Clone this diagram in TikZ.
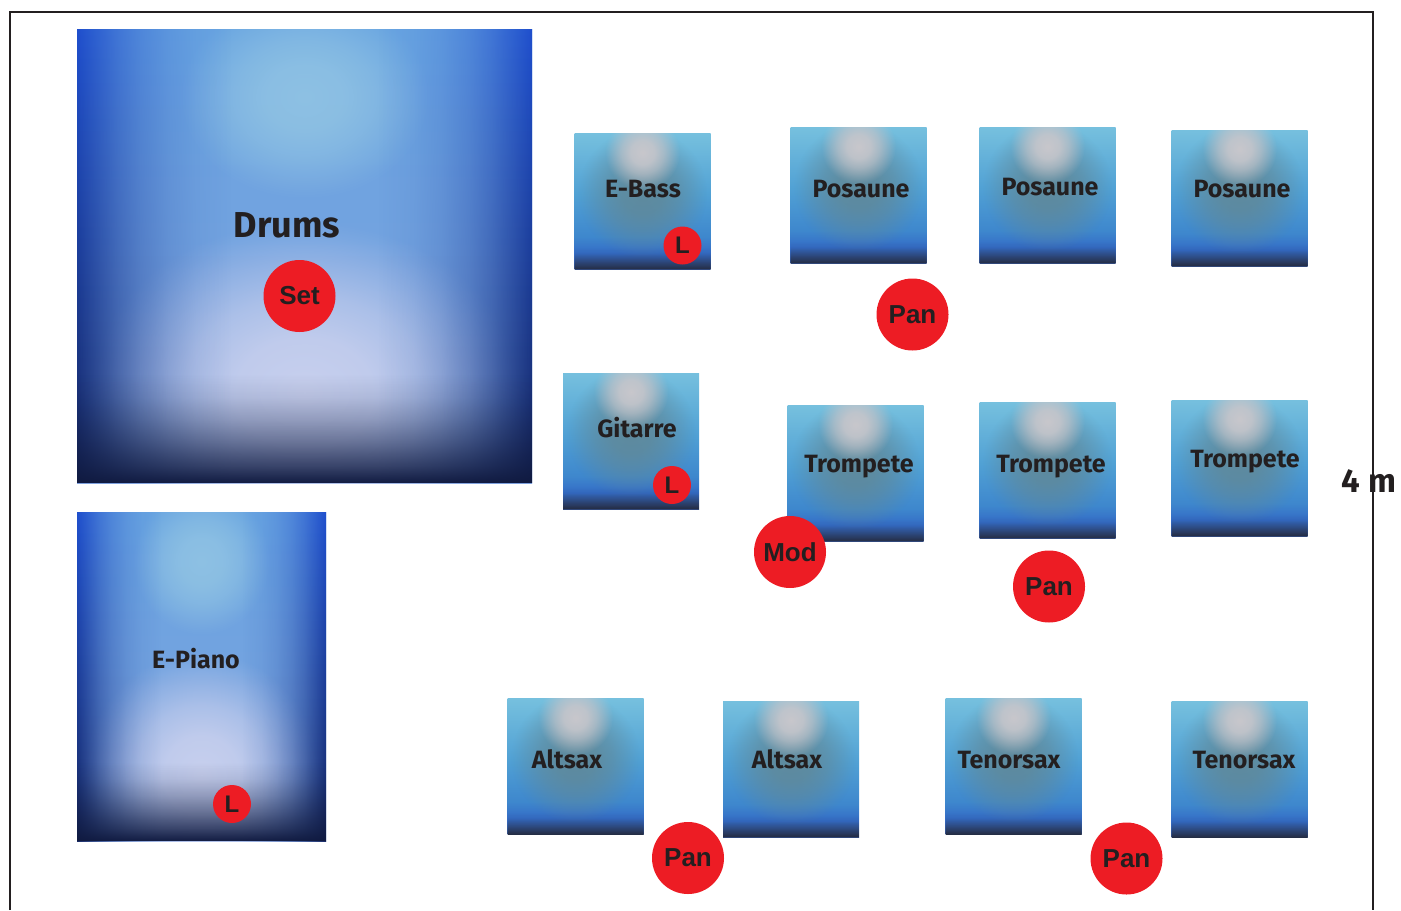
\documentclass[tikz,border=0pt]{standalone}
\usepackage{fontspec}
\setmainfont{Fira Sans}
\newfontfamily\dotfont{Liberation Sans}
\usetikzlibrary{fadings}

\definecolor{ink}{RGB}{35,31,32}
\definecolor{dotred}{RGB}{237,28,36}
% kleine boxen
\definecolor{sbot}{RGB}{48,70,120}
\definecolor{sring}{RGB}{52,108,198}
\definecolor{slow}{RGB}{62,135,205}
\definecolor{smid}{RGB}{80,160,212}
\definecolor{stop}{RGB}{118,192,222}
\definecolor{steal}{RGB}{96,136,152}
\definecolor{shigh}{RGB}{200,199,204}
\definecolor{sdark}{RGB}{36,44,66}
% grosse boxen
\definecolor{bigtop}{RGB}{105,165,225}
\definecolor{bigbot}{RGB}{125,160,222}
\definecolor{lav}{RGB}{200,208,238}
\definecolor{topcyan}{RGB}{150,200,228}
\definecolor{sideblue}{RGB}{30,78,205}
\definecolor{sidenavy}{RGB}{22,40,100}
\definecolor{navy}{RGB}{16,26,64}

\pgfdeclareverticalshading{instbase}{100bp}{color(0bp)=(sbot); color(25bp)=(sbot);
  color(31bp)=(sring); color(37bp)=(slow); color(52bp)=(smid); color(75bp)=(stop); color(100bp)=(stop)}

\pgfdeclareradialshading{blobmask}{\pgfpointorigin}{color(0bp)=(white); color(8bp)=(white!90!black);
  color(14bp)=(white!65!black); color(19bp)=(white!35!black); color(23bp)=(white!10!black);
  color(25bp)=(black); color(50bp)=(black)}
\pgfdeclarefading{blobfade}{\pgfuseshading{blobmask}}
\pgfdeclarehorizontalshading{sidemask}{100bp}{color(0bp)=(white); color(25bp)=(white);
  color(27bp)=(white!80!black); color(29.5bp)=(white!55!black); color(32bp)=(white!35!black);
  color(35bp)=(white!18!black); color(38bp)=(white!7!black); color(42bp)=(black);
  color(58bp)=(black); color(62bp)=(white!7!black); color(65bp)=(white!18!black);
  color(68bp)=(white!35!black); color(70.5bp)=(white!55!black); color(73bp)=(white!80!black);
  color(75bp)=(white); color(100bp)=(white)}
\pgfdeclarefading{sidefade}{\pgfuseshading{sidemask}}
\pgfdeclareverticalshading{lowmask}{100bp}{color(0bp)=(white); color(25bp)=(white);
  color(27bp)=(white!75!black); color(29.5bp)=(white!50!black); color(32bp)=(white!28!black);
  color(34.5bp)=(white!10!black); color(37bp)=(black); color(100bp)=(black)}
\pgfdeclarefading{lowfade}{\pgfuseshading{lowmask}}
\pgfdeclareverticalshading{lowmasksm}{100bp}{color(0bp)=(white); color(25bp)=(white);
  color(26.5bp)=(white!60!black); color(28.5bp)=(white!30!black); color(31bp)=(white!8!black);
  color(33bp)=(black); color(100bp)=(black)}
\pgfdeclarefading{lowfadesm}{\pgfuseshading{lowmasksm}}

\begin{document}
\begin{tikzpicture}[x=0.5pt, y=-0.5pt,
  inst/.style={rectangle, inner sep=0pt, minimum size=68pt, shading=instbase,
    path picture={
      \begin{scope}[shift={(path picture bounding box.center)}, x=34pt, y=34pt]
        \fill[steal, opacity=.9, path fading=blobfade] (0,0.12) ellipse (0.95 and 0.95);
        \fill[shigh, path fading=blobfade] (0,0.72) ellipse (0.55 and 0.55);
        \fill[sdark, path fading=lowfadesm] (-1,-1) rectangle (1,1);
      \end{scope}}},
  bigbox/.style 2 args={rectangle, inner sep=0pt, minimum width=2*#1, minimum height=2*#2,
    top color=bigtop, bottom color=bigbot,
    path picture={
      \begin{scope}[shift={(path picture bounding box.center)}, x=#1, y=#2]
        \fill[lav, path fading=blobfade] (0,-0.6) ellipse (0.95 and 0.75);
        \fill[topcyan, opacity=.8, path fading=blobfade] (0,0.7) ellipse (0.55 and 0.45);
        \shade[top color=sideblue, bottom color=sidenavy, path fading=sidefade] (-1,-1) rectangle (1,1);
        \fill[navy, path fading=lowfade] (-1,-1) rectangle (1,1);
      \end{scope}}},
  lbl/.style={anchor=base, inner sep=0pt, text=ink, font=\bfseries\fontsize{12.5}{14}\selectfont},
  dot/.style={circle, fill=dotred, inner sep=0pt, minimum size=36pt, text=ink,
    font=\dotfont\bfseries\fontsize{13}{14}\selectfont},
  ldot/.style={dot, minimum size=19pt, font=\dotfont\bfseries\fontsize{12}{13}\selectfont}]

  \useasboundingbox (0,0) rectangle (1401,910);

  % rahmen
  \draw[ink, line width=1.2pt] (10,910) -- (10,12) -- (1373,12) -- (1373,910);

  % grosse flaechen
  \node[bigbox={113.75pt}{113.5pt}] (drums) at (304.5,256) {};
  \node[bigbox={62.25pt}{82.25pt}] (epiano) at (201.5,676.5) {};
  \node[lbl, font=\bfseries\fontsize{18}{20}\selectfont] (drumst) at (287,237) {Drums};
  \node[lbl] (epianot) at (196,668) {E-Piano};

  % reihe 1
  \node[inst] (ebass) at (642.5,201.5) {};
  \node[inst] (posa) at (858.5,195.5) {};
  \node[inst] (posb) at (1047.5,195.5) {};
  \node[inst] (posc) at (1239.5,198) {};
  \node[lbl] (ebasst) at (643,197) {E-Bass};
  \node[lbl] (posat) at (861,197) {Posaune};
  \node[lbl] (posbt) at (1050,195) {Posaune};
  \node[lbl] (posct) at (1242,197) {Posaune};

  % reihe 2
  \node[inst] (gitarre) at (631,441) {};
  \node[inst] (tra) at (855.5,473.5) {};
  \node[inst] (trb) at (1047.5,470.5) {};
  \node[inst] (trc) at (1239.5,468) {};
  \node[lbl] (gitarret) at (637,437) {Gitarre};
  \node[lbl] (trat) at (859,472) {Trompete};
  \node[lbl] (trbt) at (1051,472) {Trompete};
  \node[lbl] (trct) at (1245,467) {Trompete};

  % reihe 3
  \node[inst] (alta) at (575.5,766.5) {};
  \node[inst] (altb) at (791,769) {};
  \node[inst] (tena) at (1013.5,766.5) {};
  \node[inst] (tenb) at (1239.5,769.5) {};
  \node[lbl] (altat) at (567,768) {Altsax};
  \node[lbl] (altbt) at (787,768) {Altsax};
  \node[lbl] (tenat) at (1009,768) {Tenorsax};
  \node[lbl] (tenbt) at (1244,768) {Tenorsax};

  % mikrofone
  \node[dot] (set) at (299.5,296) {Set};
  \node[dot] (pana) at (912.5,314.5) {Pan};
  \node[dot] (mod) at (790,552) {Mod};
  \node[dot] (panb) at (1049,586.5) {Pan};
  \node[dot] (panc) at (688,858) {Pan};
  \node[dot] (pand) at (1126.5,858.5) {Pan};
  \node[ldot] (lbass) at (682.5,245.5) {L};
  \node[ldot] (lgit) at (672,485) {L};
  \node[ldot] (lpiano) at (232,804) {L};

  % masz
  \node[lbl, font=\bfseries\fontsize{16.5}{18}\selectfont] (breite) at (1369,492) {4 m};

\end{tikzpicture}
\end{document}
